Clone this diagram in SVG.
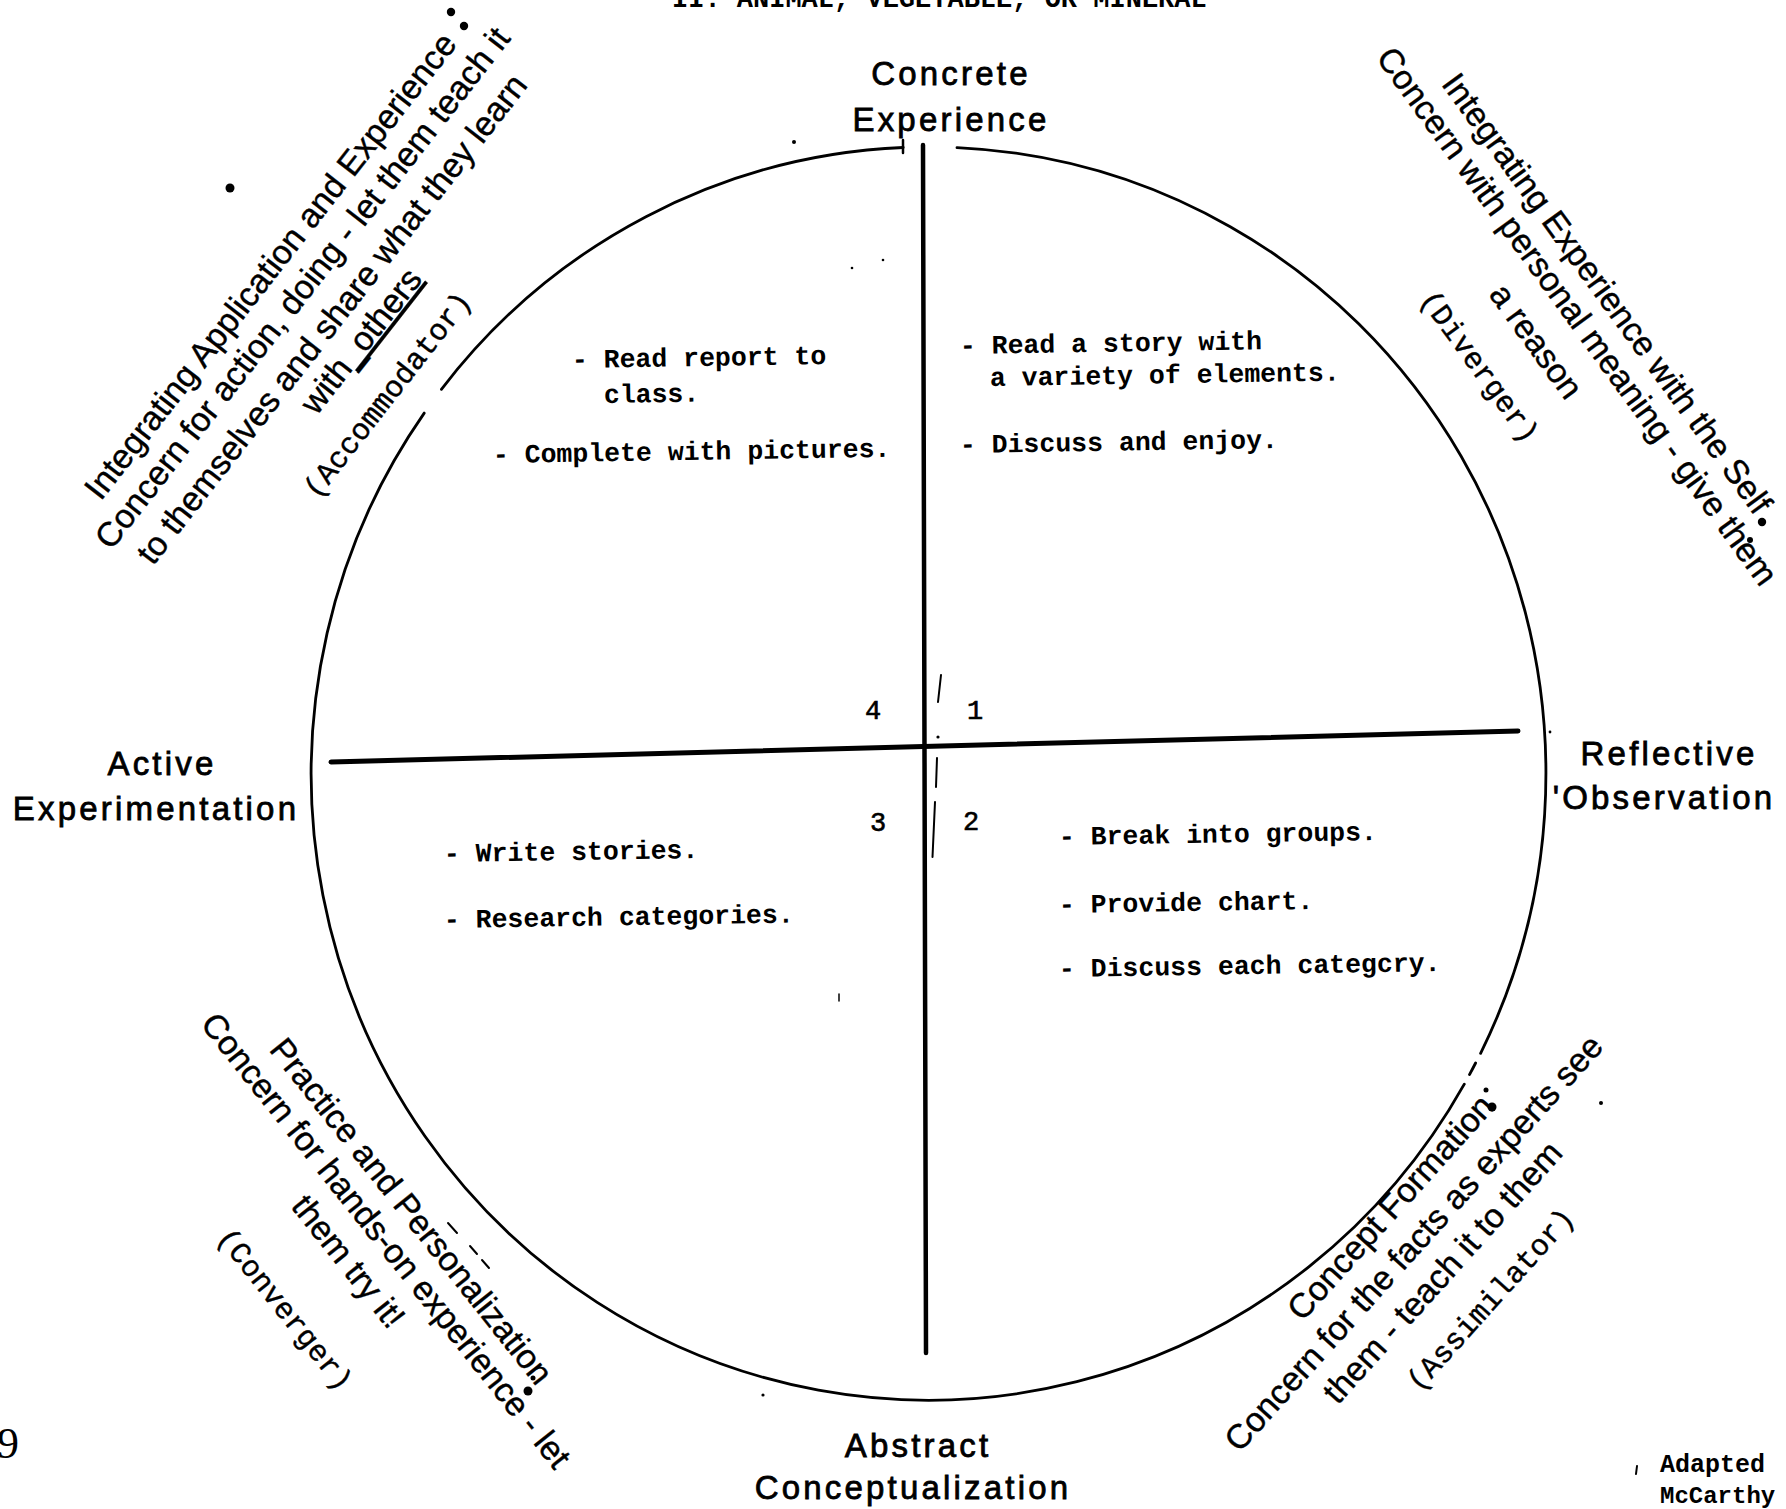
<svg xmlns="http://www.w3.org/2000/svg" width="1786" height="1509" viewBox="0 0 1786 1509">
<style>
.ax{font-family:"Liberation Sans",Arial,sans-serif;font-size:33px;letter-spacing:3.2px;text-anchor:middle;fill:#000;stroke:#000;stroke-width:0.8}
.q{font-family:"Liberation Mono","Courier New",monospace;font-size:26.5px;font-weight:bold;fill:#000}
.num{font-family:"Liberation Mono","Courier New",monospace;font-size:27px;text-anchor:middle;fill:#000;stroke:#000;stroke-width:0.6}
.rot{font-family:"Liberation Sans",Arial,sans-serif;font-size:34px;text-anchor:middle;fill:#000;stroke:#000;stroke-width:0.4}
.rotm{font-family:"Liberation Mono","Courier New",monospace;font-size:30px;text-anchor:middle;fill:#000;stroke:#000;stroke-width:0.4}
.ln{fill:none;stroke:#000;stroke-linecap:round}
.dot{fill:#000}
</style>
<rect width="1786" height="1509" fill="#fff"/>

<text x="672" y="7" font-family="Liberation Mono, monospace" font-size="27" font-weight="bold">II. ANIMAL, VEGETABLE, OR MINERAL</text>

<g id="connectors">
  <path class="ln" stroke-width="2.8" d="M957,147.6 A617,626 0 0 1 1480.6,1053.3 M1475.6,1063 A617,626 0 0 1 1469.5,1074.6 M1464.3,1084.1 A617,626 0 1 1 424.2,413.1 M441.4,389.3 A617,626 0 0 1 903.2,147.5"/>
  <line class="ln" x1="903" y1="140" x2="903" y2="153" stroke-width="2.5"/>
  <line class="ln" x1="923" y1="145" x2="926" y2="1353" stroke-width="4.5"/>
  <line class="ln" x1="331" y1="762" x2="1518" y2="731" stroke-width="5"/>
  <line class="ln" x1="941" y1="675" x2="938" y2="702" stroke-width="2"/>
  <circle class="dot" cx="938" cy="737" r="1.6"/>
  <line class="ln" x1="937" y1="758" x2="936" y2="787" stroke-width="2"/>
  <line class="ln" x1="935" y1="802" x2="932.5" y2="857" stroke-width="2"/>
</g>

<g id="axis-concrete">
  <text class="ax" x="951" y="85">Concrete</text>
  <text class="ax" x="951" y="131">Experience</text>
</g>
<g id="axis-reflective">
  <text class="ax" x="1669" y="765">Reflective</text>
  <text class="ax" x="1664" y="809">'Observation</text>
</g>
<g id="axis-abstract">
  <text class="ax" x="918" y="1457">Abstract</text>
  <text class="ax" x="913" y="1499">Conceptualization</text>
</g>
<g id="axis-active">
  <text class="ax" x="162" y="775">Active</text>
  <text class="ax" x="156" y="820">Experimentation</text>
</g>

<g id="quadrant-numbers">
  <text class="num" x="873" y="719">4</text>
  <text class="num" x="975" y="719">1</text>
  <text class="num" x="878" y="831">3</text>
  <text class="num" x="971" y="830">2</text>
</g>

<g id="quadrant-1">
  <text class="q" x="960" y="354" transform="rotate(-0.9 960 354)">- Read a story with</text>
  <text class="q" x="990" y="386" transform="rotate(-0.9 990 386)">a variety of elements.</text>
  <text class="q" x="960" y="453" transform="rotate(-0.9 960 453)">- Discuss and enjoy.</text>
</g>
<g id="quadrant-4">
  <text class="q" x="572" y="368" transform="rotate(-0.9 572 368)">- Read report to</text>
  <text class="q" x="604" y="403" transform="rotate(-0.9 604 403)">class.</text>
  <text class="q" x="493" y="463" transform="rotate(-0.9 493 463)">- Complete with pictures.</text>
</g>
<g id="quadrant-3">
  <text class="q" x="444" y="862" transform="rotate(-0.9 444 862)">- Write stories.</text>
  <text class="q" x="444" y="928" transform="rotate(-0.9 444 928)">- Research categories.</text>
</g>
<g id="quadrant-2">
  <text class="q" x="1059" y="845" transform="rotate(-0.9 1059 845)">- Break into groups.</text>
  <text class="q" x="1059" y="913" transform="rotate(-0.9 1059 913)">- Provide chart.</text>
  <text class="q" x="1059" y="977" transform="rotate(-0.9 1059 977)">- Discuss each categcry.</text>
</g>

<g id="accommodator">
  <g transform="translate(272,268) rotate(-52)">
    <text class="rot" x="0.6" y="9">Integrating Application and Experience</text>
    <text class="rot" x="2.9" y="47.7">Concern for action, doing - let them teach it</text>
    <text class="rot" x="-3.4" y="90">to themselves and share what they learn</text>
    <text class="rot" x="-2.8" y="126.5">with<tspan text-decoration="underline">_others</tspan></text>
    <text class="rotm" x="-28.8" y="178.5">(Accommodator)</text>
  </g>
  <circle class="dot" cx="451" cy="12" r="4.2"/>
  <circle class="dot" cx="464" cy="26" r="4.2"/>
  <circle class="dot" cx="230" cy="188" r="4.5"/>
</g>

<g id="diverger">
  <g transform="translate(1605,295) rotate(54)">
    <text class="rot" x="0" y="9">Integrating Experience with the Self</text>
    <text class="rot" x="0.8" y="46.5">Concern with personal meaning - give them</text>
    <text class="rot" x="-3" y="94.4">a reason</text>
    <text class="rotm" x="-16" y="153">(Diverger)</text>
  </g>
  <circle class="dot" cx="1762" cy="522" r="4.2"/>
  <circle class="dot" cx="1750" cy="540" r="3"/>
</g>

<g id="converger">
  <g transform="translate(412,1216) rotate(51.5)">
    <text class="rot" x="-4.2" y="9">Practice and Personalization</text>
    <text class="rot" x="3" y="47">Concern for hands-on experience - let</text>
    <text class="rot" x="-4" y="89.6">them try it!</text>
    <text class="rotm" x="-6" y="166.9">(Converger)</text>
  </g>
  <circle class="dot" cx="533" cy="1378" r="2.5"/>
  <circle class="dot" cx="528" cy="1391" r="4.5"/>
  <line class="ln" x1="448" y1="1223" x2="457" y2="1233" stroke-width="2"/>
  <line class="ln" x1="470" y1="1246" x2="477" y2="1254" stroke-width="2"/>
  <line class="ln" x1="482" y1="1260" x2="489" y2="1268" stroke-width="2"/>
</g>

<g id="assimilator">
  <g transform="translate(1383,1212) rotate(-48)">
    <text class="rot" x="8.4" y="14">Concept Formation</text>
    <text class="rot" x="-2.4" y="55">Concern for the facts as experts see</text>
    <text class="rot" x="-5" y="96">them - teach it to them</text>
    <text class="rotm" x="6.9" y="148">(Assimilator)</text>
  </g>
  <circle class="dot" cx="1486" cy="1090" r="2.5"/>
  <circle class="dot" cx="1492" cy="1107" r="4.5"/>
</g>

<g id="marks">
  <circle class="dot" cx="794" cy="142" r="2"/>
  <circle class="dot" cx="852" cy="268" r="1.3"/>
  <circle class="dot" cx="883" cy="260" r="1.3"/>
  <line class="ln" x1="839" y1="994" x2="839" y2="1001" stroke-width="1.5"/>
  <circle class="dot" cx="1601" cy="1103" r="2"/>
  <circle class="dot" cx="763" cy="1395" r="1.6"/>
  <circle class="dot" cx="1550" cy="732" r="1.4"/>
  <line class="ln" x1="1637" y1="1466" x2="1636" y2="1474" stroke-width="2"/>
</g>

<g id="footer">
  <text x="-3" y="1458" font-family="Liberation Serif, serif" font-size="44">9</text>
  <text x="1660" y="1472" font-family="Liberation Mono, monospace" font-size="25" font-weight="bold">Adapted</text>
  <text x="1660" y="1503" font-family="Liberation Mono, monospace" font-size="24" font-weight="bold">McCarthy</text>
</g>
</svg>
